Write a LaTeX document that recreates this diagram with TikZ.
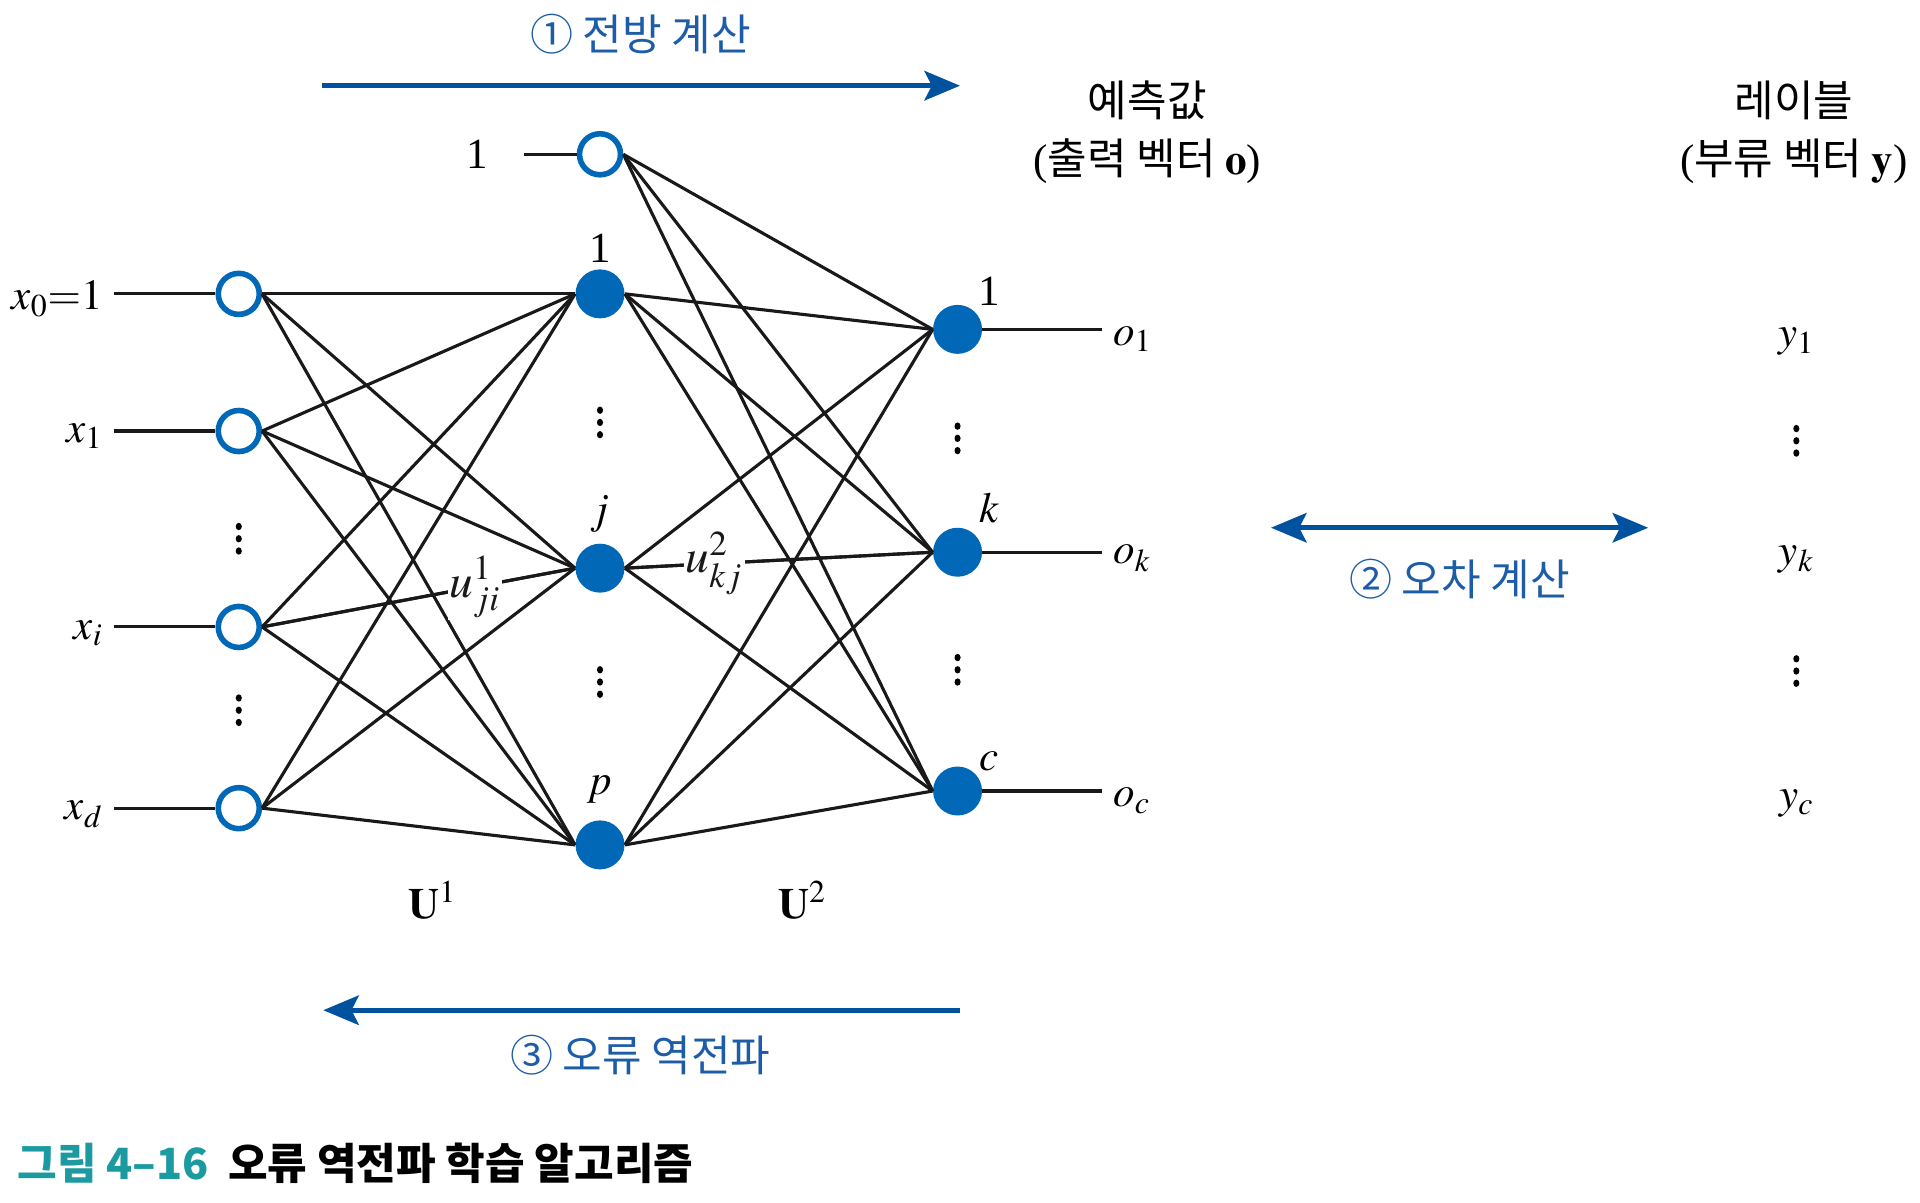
\documentclass[tikz,border=0pt]{standalone}
\usepackage{mathptmx}
\usepackage[no-math]{fontspec}
\setmainfont{Liberation Serif}
\newfontfamily\kr{Noto Sans CJK KR}
\usetikzlibrary{arrows.meta,positioning,calc}
\definecolor{netblue}{HTML}{0068B7}
\definecolor{flowblue}{HTML}{00529F}
\definecolor{stepblue}{HTML}{1D5DA8}
\definecolor{capteal}{HTML}{1B9AA0}

\begin{document}
\begin{tikzpicture}
[x=0.02cm,y=-0.02cm,
inunit/.style={circle,draw=netblue,line width=2.6pt,fill=white,minimum size=0.67cm,inner sep=0pt},
hunit/.style={circle,fill=netblue,minimum size=0.8cm,inner sep=0pt},
wire/.style={line width=1.45pt,black!90},
flow/.style={flowblue,line width=2.3pt,-{Stealth[length=0.58cm,width=0.48cm,inset=0.12cm]}},
twoflow/.style={flowblue,line width=2.3pt,{Stealth[length=0.58cm,width=0.48cm,inset=0.12cm]}-{Stealth[length=0.58cm,width=0.48cm,inset=0.12cm]}},
lab/.style={font=\fontsize{20}{24}\selectfont,inner sep=1pt},
tag/.style={lab,inner xsep=5pt},
wlab/.style={font=\fontsize{22}{26}\selectfont,inner sep=1pt,fill=white},
dotcol/.style={minimum size=0.6cm,inner sep=0pt},
klab/.style={font=\kr\fontsize{20}{24}\selectfont,inner sep=1pt},
steplab/.style={klab,text=stepblue}]
%%%%%%%%%%
\useasboundingbox (0,0) rectangle (1568,982);

% input layer
\node[inunit] (in0) at (195,240) {};
\node[inunit] (in1) at (195,352) {};
\node[inunit] (ini) at (195,512) {};
\node[inunit] (ind) at (195,660) {};
\node[dotcol] (din1) at (195,440) {};
\node[dotcol] (din2) at (195,580) {};

\node[tag,anchor=east] (lx0) at (93,244) {$x_0{=}1$};
\node[tag,anchor=east] (lx1) at (93,356) {$x_1$};
\node[tag,anchor=east] (lxi) at (93,517) {$x_i$};
\node[tag,anchor=east] (lxd) at (93,665) {$x_d$};

% hidden layer
\node[inunit] (hb) at (490,126) {};
\node[hunit] (h1) at (490,240) {};
\node[hunit] (hj) at (490,464) {};
\node[hunit] (hp) at (490,690) {};
\node[dotcol] (dh1) at (490,345) {};
\node[dotcol] (dh2) at (490,557) {};

\node[lab] (lb) at (390,126) {1};
\coordinate (bstart) at (428,126);
\node[lab] (lh1) at (490,203) {1};
\node[lab] (lhj) at (490,420) {$j$};
\node[lab] (lhp) at (490,645) {$p$};

% output layer
\node[hunit] (o1) at (782,269) {};
\node[hunit] (ok) at (782,451) {};
\node[hunit] (oc) at (782,646) {};
\node[dotcol] (do1) at (782,358) {};
\node[dotcol] (do2) at (782,547) {};

\node[lab] (lo1n) at (808,238) {1};
\node[lab] (lokn) at (808,415) {$k$};
\node[lab] (locn) at (808,622) {$c$};

\node[tag,anchor=west] (lo1) at (900,277) {$o_1$};
\node[tag,anchor=west] (lok) at (900,456) {$o_k$};
\node[tag,anchor=west] (loc) at (900,654) {$o_c$};

% labels y
\node[lab] (ly1) at (1467,279) {$y_1$};
\node[dotcol] (dy1) at (1467,360) {};
\node[lab] (lyk) at (1467,457) {$y_k$};
\node[dotcol] (dy2) at (1467,548) {};
\node[lab] (lyc) at (1467,656) {$y_c$};

\foreach \d in {din1,din2,dh1,dh2,do1,do2,dy1,dy2}
    \foreach \s in {-10,0,10}
        \fill ($(\d)+(0,\s)$) ellipse (0.05cm and 0.06cm);

\node[klab] (pred) at (937,82) {예측값};
\node[klab] (predv) at (937,132) {{\rmfamily(}출력 벡터 $\mathbf{o}${\rmfamily)}};
\node[klab] (lbl) at (1465,82) {레이블};
\node[klab] (lblv) at (1465,132) {{\rmfamily(}부류 벡터 $\mathbf{y}${\rmfamily)}};

\node[lab] (U1) at (353,735) {$\mathbf{U}^1$};
\node[lab] (U2) at (655,735) {$\mathbf{U}^2$};

% connections
\draw[wire] (lx0.east |- in0) -- (in0.west);
\draw[wire] (lx1.east |- in1) -- (in1.west);
\draw[wire] (lxi.east |- ini) -- (ini.west);
\draw[wire] (lxd.east |- ind) -- (ind.west);
\draw[wire] (bstart) -- (hb.west);

\foreach \a in {in0,in1,ini,ind}
    \foreach \b in {h1,hj,hp}
        \draw[wire] (\a.east) -- (\b.west);

\foreach \a in {hb,h1,hj,hp}
    \foreach \b in {o1,ok,oc}
        \draw[wire] (\a.east) -- (\b.west);

\draw[wire] (o1.east) -- (o1 -| lo1.west);
\draw[wire] (ok.east) -- (ok -| lok.west);
\draw[wire] (oc.east) -- (oc -| loc.west);

\draw[wire] (ini.east) -- node[wlab,pos=0.68] (wji) {$u^1_{ji}$} (hj.west);
\draw[wire] (hj.east) -- node[wlab,pos=0.29] (wkj) {$u^2_{kj}$} (ok.west);

% steps
\coordinate (fwdL) at (263,70);
\coordinate (fwdR) at (784,70);
\coordinate (errL) at (1038,431);
\coordinate (errR) at (1346,431);
\coordinate (bwdR) at (784,825);
\coordinate (bwdL) at (264,825);

\draw[flow] (fwdL) -- (fwdR);
\draw[twoflow] (errL) -- (errR);
\draw[flow] (bwdR) -- (bwdL);

\node[steplab] (s1) at (523,28) {① 전방 계산};
\node[steplab] (s2) at (1192,473) {② 오차 계산};
\node[steplab] (s3) at (523,862) {③ 오류 역전파};

% caption
\node[anchor=west,inner sep=0pt,font=\kr\bfseries\fontsize{20}{24}\selectfont] (cap) at (14,950)
    {{\color{capteal}그림 4–16}\hspace{0.45em}오류 역전파 학습 알고리즘};
\end{tikzpicture}
\end{document}
